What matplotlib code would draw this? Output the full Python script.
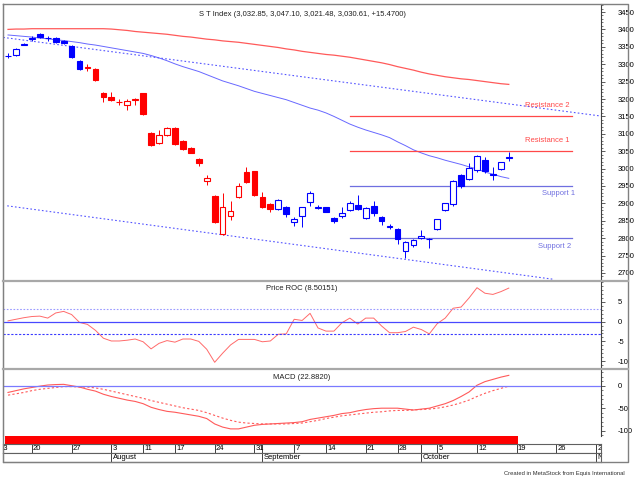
import matplotlib
matplotlib.use("Agg")
import matplotlib.pyplot as plt
from matplotlib.lines import Line2D
import numpy as np
import pandas as pd

plt.rcParams['font.family'] = ['Liberation Sans', 'DejaVu Sans']
plt.rcParams['axes.unicode_minus'] = False

# --- data (STI daily, 14 Jul - 16 Oct 2015) ---
opens = [3323, 3326, 3356, 3373, 3387, 3374, 3375, 3367, 3352, 3310,
         3289, 3286, 3218, 3207, 3191, 3182, 3197, 3216, 3103, 3073,
         3096, 3117, 3079, 3058, 3027, 2964, 2921, 2812, 2864, 2917,
         2989, 2992, 2919, 2898, 2883, 2889, 2847, 2864, 2904, 2888,
         2889, 2857, 2864, 2881, 2895, 2857, 2893, 2862, 2832, 2825,
         2764, 2780, 2800, 2797, 2826, 2881, 2898, 2982, 2969, 2996,
         3025, 2983, 2999, 3032.85]
highs = [3331, 3346, 3360, 3381, 3389, 3381, 3378, 3369, 3354, 3312,
         3300, 3288, 3220, 3220, 3200, 3200, 3202, 3218, 3105, 3110,
         3120, 3119, 3081, 3061, 3031, 2983, 2923, 2931, 2908, 2958,
         3004, 2994, 2934, 2902, 2912, 2892, 2862, 2891, 2936, 2895,
         2891, 2860, 2889, 2906, 2924, 2889, 2908, 2864, 2840, 2830,
         2792, 2797, 2824, 2801, 2856, 2902, 2966, 2985, 3016, 3038,
         3034, 3005, 3020, 3047.10]
lows = [3318, 3325, 3354, 3368, 3376, 3366, 3362, 3358, 3318, 3284,
        3280, 3252, 3192, 3195, 3183, 3168, 3183, 3154, 3065, 3071,
        3094, 3069, 3053, 3044, 3007, 2952, 2845, 2810, 2852, 2915,
        2958, 2922, 2886, 2876, 2881, 2862, 2834, 2833, 2893, 2884,
        2874, 2843, 2857, 2879, 2882, 2855, 2865, 2838, 2826, 2783,
        2744, 2775, 2798, 2772, 2824, 2877, 2892, 2944, 2967, 2990,
        2988, 2966, 2997, 3021.48]
closes = [3325, 3344, 3358, 3375, 3377, 3376, 3363, 3360, 3320, 3286,
          3291, 3255, 3207, 3197, 3192, 3195, 3200, 3157, 3068, 3096,
          3117, 3071, 3055, 3046, 3015, 2972, 2847, 2889, 2877, 2950,
          2962, 2924, 2889, 2883, 2910, 2870, 2854, 2889, 2929, 2890,
          2876, 2850, 2872, 2900, 2884, 2886, 2873, 2850, 2834, 2797,
          2790, 2795, 2805, 2799, 2854, 2900, 2964, 2950, 3001, 3036,
          2993, 2985, 3018, 3030.61]
bar_colors = ['b'] * 10 + ['r'] * 24 + ['b'] * 30

ma_red = [3400, 3401, 3401, 3402, 3402, 3402, 3402, 3402, 3402, 3402,
          3402, 3402, 3402, 3401, 3399, 3397, 3394, 3392, 3390, 3388,
          3386, 3383, 3380, 3378, 3375, 3372, 3370, 3367, 3365, 3363,
          3360, 3357, 3354, 3351, 3348, 3344, 3341, 3337, 3334, 3331,
          3328, 3326, 3323, 3320, 3316, 3312, 3308, 3304, 3299, 3293,
          3288, 3283, 3277, 3272, 3268, 3264, 3261, 3258, 3256, 3253,
          3250, 3247, 3244, 3242]
ma_blue = [3384, 3382, 3380, 3378, 3375, 3373, 3370, 3368, 3365, 3362,
           3358, 3355, 3351, 3347, 3343, 3339, 3335, 3331, 3325, 3318,
           3310, 3301, 3293, 3286, 3279, 3270, 3261, 3252, 3245, 3238,
           3230, 3222, 3216, 3210, 3204, 3198, 3190, 3182, 3174, 3168,
           3160, 3150, 3139, 3128, 3119, 3111, 3104, 3097, 3089, 3077,
           3066, 3054, 3045, 3037, 3031, 3024, 3018, 3012, 3005, 2999,
           2990, 2984, 2977, 2972]

# trend channel end points (bar index, price)
chan_upper_x = [-0.6, 74.6]
chan_upper_y = [3377, 3151]
chan_lower_x = [-0.1, 68.6]
chan_lower_y = [2893, 2682]

levels = [3150, 3050, 2950, 2800]
level_names = ['Resistance 2', 'Resistance 1', 'Support 1', 'Support 2']
level_colors = ['#ff4848', '#ff4848', '#6f6fe0', '#6f6fe0']
label_x = [67.8, 67.8, 69.3, 68.7]
level_start, level_end = 43, 70.9

roc = [0.2, 0.6, 1.0, 1.3, 1.4, 0.9, 2.2, 2.6, 1.8, -0.2,
       -0.7, -2.2, -4.2, -4.9, -4.9, -4.7, -4.4, -5.1, -6.9, -5.5,
       -4.8, -5.2, -4.4, -4.4, -5.0, -7.0, -10.3, -8.0, -5.9, -4.5,
       -4.5, -4.5, -5.1, -4.9, -3.2, -3.1, 0.6, 0.3, 2.1, -1.6,
       -2.4, -2.4, -0.3, 0.9, -0.6, 0.9, 0.9, -1.1, -2.8, -2.8,
       -2.5, -1.4, -2.0, -3.1, -0.5, 0.9, 3.4, 3.7, 6.0, 8.6,
       7.2, 6.9, 7.6, 8.5]
macd = [-15, -11, -7, -4, -1, 1.5, 2.5, 3, 0, -3,
        -8, -12, -19, -24, -28, -32, -35, -40, -48, -53,
        -57, -59, -62, -65, -68, -73, -85, -92, -96, -96,
        -92, -88, -86, -85, -84, -83, -82, -80, -75, -72,
        -69, -66, -62, -60, -56, -53, -51, -50, -50, -50,
        -52, -54, -52, -50, -45, -40, -33, -24, -14, 1,
        9, 14, 19, 23]
signal = [-21, -18, -15, -11, -8, -6, -4, -2, -2, -3,
          -3, -5, -8, -12, -16, -20, -24, -28, -33, -37,
          -41, -45, -49, -52, -55, -60, -66, -72, -77, -81,
          -83, -84, -85, -85, -85, -85, -84, -83, -80, -77,
          -73, -70, -67, -65, -63, -61, -59, -58, -56, -55,
          -55, -54, -53, -52, -50, -47, -43, -38, -32, -24,
          -17, -11, -6, -1]
ribbon = [-0.4, 64.2]

holidays = ['2015-07-17', '2015-08-07', '2015-08-10', '2015-09-11', '2015-09-24']
days = pd.bdate_range('2015-07-13', '2015-11-02')
days = days[~days.isin(pd.to_datetime(holidays))]
day_pos = np.arange(len(days)) - 1   # 14 Jul is bar 0

W, H = 640, 480
fig = plt.figure(figsize=(6.4, 4.8), dpi=100)
fig.patch.set_facecolor('white')


def px_axes(x0, y0, x1, y1):
    return fig.add_axes([x0 / W, 1 - y1 / H, (x1 - x0) / W, (y1 - y0) / H])


def fig_line(xs, ys, **kw):
    fig.add_artist(Line2D([x / W for x in xs], [1 - y / H for y in ys],
                          transform=fig.transFigure, **kw))


XL = (-0.63, 74.6)
fs = 5.5

ax = px_axes(3, 4, 601, 281)
ax_roc = px_axes(3, 281, 601, 369)
ax_macd = px_axes(3, 369, 601, 436)
ax_rib = px_axes(3, 436, 601, 444)
ax_day = px_axes(3, 444, 601, 453)
ax_mon = px_axes(3, 453, 601, 462)

for a in (ax, ax_roc, ax_macd):
    a.set_xlim(*XL)
    a.set_xticks([])
    a.yaxis.tick_right()
    a.tick_params(axis='y', which='major', direction='out', length=3,
                  width=0.6, color='#404040', labelsize=fs, pad=9)
    a.tick_params(axis='y', which='minor', direction='out', length=1.5,
                  width=0.5, color='#404040')
    for s in ('top', 'bottom'):
        a.spines[s].set_visible(False)
    a.spines['left'].set_color('#808080')
    a.spines['right'].set_color('#404040')
    a.spines['right'].set_linewidth(0.8)

# --- price panel ---
x = np.arange(len(closes))
cmap = {'b': '#0000ff', 'r': '#ff0000'}
for i in x:
    c = cmap[bar_colors[i]]
    ax.vlines(i, lows[i], highs[i], color=c, lw=0.7, zorder=3)
    lo, hi = min(opens[i], closes[i]), max(opens[i], closes[i])
    up = closes[i] > opens[i]
    ax.bar(i, max(hi - lo, 0.8), bottom=lo, width=0.72,
           facecolor='white' if up else c, edgecolor=c, lw=0.8, zorder=4)

ax.plot(x, ma_red, color='#ff5a5a', lw=0.9, zorder=2)
ax.plot(x, ma_blue, color='#6868ff', lw=0.7, zorder=2)
ax.plot(chan_upper_x, chan_upper_y, color='#5555ff', lw=0.8, ls=(0, (1.5, 2)), zorder=2)
ax.plot(chan_lower_x, chan_lower_y, color='#5555ff', lw=0.8, ls=(0, (1.5, 2)), zorder=2)
for lv, nm, col, lx in zip(levels, level_names, level_colors, label_x):
    ax.plot([level_start, level_end], [lv, lv], color=col, lw=0.9, zorder=2)
    off = 11 if nm.startswith('Res') else -8
    ax.annotate(nm, (lx, lv), xytext=(0, off), textcoords='offset pixels',
                ha='center', va='center', fontsize=fs, color=col)

ax.set_ylim(2677, 3473)
ax.set_yticks(np.arange(2700, 3451, 50))
ax.set_yticks(np.arange(2680, 3471, 10), minor=True)
ax.set_title('S T Index (3,032.85, 3,047.10, 3,021.48, 3,030.61, +15.4700)',
             fontsize=fs, y=0.975, pad=0, va='top', color='#202020')

# --- ROC panel ---
ax_roc.plot(x, roc, color='#ff6a6a', lw=0.7)
ax_roc.axhline(0, color='#4848ff', lw=0.9)
ax_roc.axhline(3.1, color='#9a9aff', lw=0.8, ls=(0, (1.5, 1.5)))
ax_roc.axhline(-3.1, color='#3a3aff', lw=0.8, ls=(0, (2, 1.5)))
ax_roc.set_ylim(-12.0, 10.3)
ax_roc.set_yticks([5, 0, -5, -10])
ax_roc.set_yticks(np.arange(-12, 11, 1), minor=True)
ax_roc.set_title('Price ROC (8.50151)', fontsize=fs, y=0.95, pad=0, va='top', color='#202020')

# --- MACD panel ---
ax_macd.plot(x, macd, color='#ff5a5a', lw=0.8)
ax_macd.plot(x, signal, color='#ff5a5a', lw=0.8, ls=(0, (2, 2)))
ax_macd.axhline(0, color='#7a7aff', lw=0.9)
ax_macd.set_ylim(-111.8, 37.1)
ax_macd.set_yticks([0, -50, -100])
ax_macd.set_yticks(np.arange(-110, 31, 10), minor=True)
ax_macd.set_title('MACD (22.8820)', fontsize=fs, y=0.93, pad=0, va='top', color='#202020')

# --- red ribbon ---
ax_rib.set_xlim(*XL)
ax_rib.set_ylim(0, 1)
ax_rib.barh(0.5, ribbon[1] - ribbon[0], left=ribbon[0], height=1, color='#ff0000')
ax_rib.axis('off')

# --- date rows ---
for a in (ax_day, ax_mon):
    a.set_xlim(*XL)
    a.set_ylim(0, 1)
    a.set_xticks([])
    a.set_yticks([])
    for s in a.spines.values():
        s.set_color('#606060')
        s.set_linewidth(0.8)

prev_week = None
prev_month = None
for d, p in zip(days, day_pos):
    wk = d.isocalendar()[1]
    if d.month != prev_month:
        if prev_month is not None:
            ax_day.axvline(p, color='#404040', lw=0.7)
            ax_mon.axvline(p, color='#404040', lw=0.7)
            ax_mon.text(p + 0.2, 0.45, d.strftime('%B'), fontsize=fs,
                        va='center', ha='left', clip_on=True)
        prev_month = d.month
    if wk != prev_week:
        ax_day.axvline(p, color='#404040', lw=0.7)
        ax_day.text(p - 0.1 if p < 0 else p + 0.15, 0.45, str(d.day),
                    fontsize=fs, va='center', ha='left', clip_on=True)
        prev_week = wk

# --- frame and separators ---
fig_line([3, 628, 628, 3, 3], [4, 4, 462, 462, 4], color='#808080', lw=1.0)
fig_line([3, 628], [281, 281], color='#a8a8a8', lw=1.6)
fig_line([3, 628], [369, 369], color='#a8a8a8', lw=1.6)
fig.text(625 / W, 1 - 473 / H, 'Created in MetaStock from Equis International',
         fontsize=4.2, ha='right', va='center', color='#303030')

fig.savefig('out.png', dpi=100, facecolor='white')
